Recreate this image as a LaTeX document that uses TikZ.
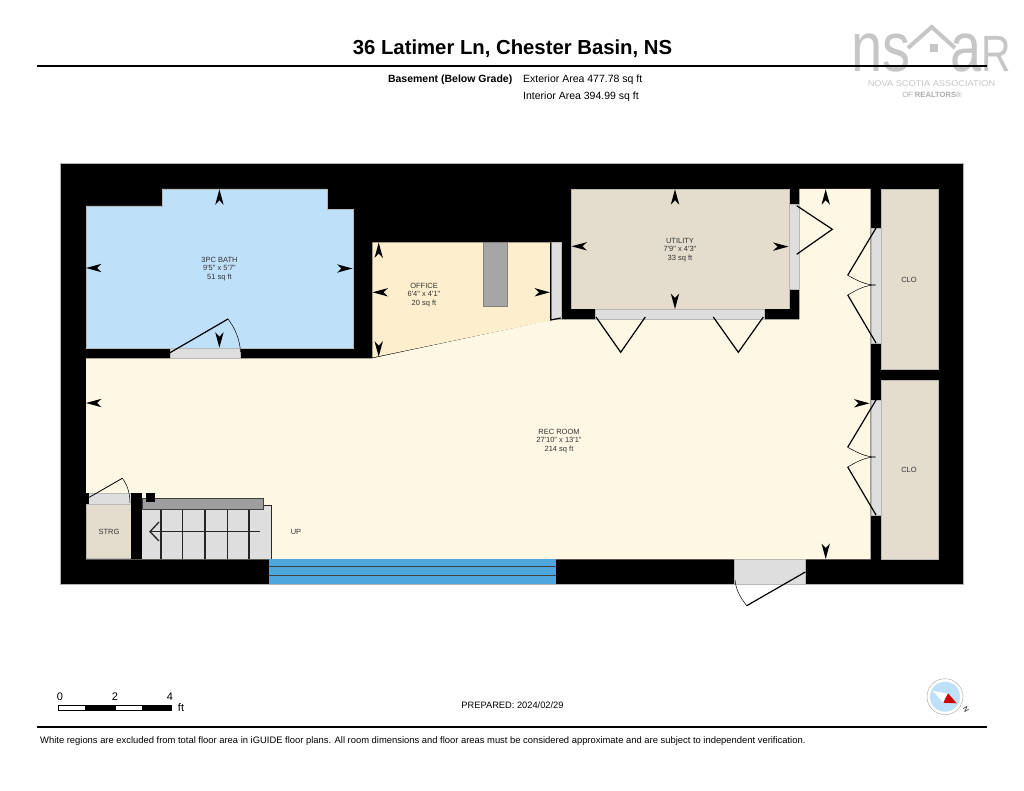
\documentclass[tikz,border=0pt]{standalone}
\usepackage{fontspec}
\setmainfont{Liberation Sans}[Ligatures=TeXOff]
\usepackage{tikz}
\usetikzlibrary{calc}

\definecolor{bathBlue}{HTML}{BFE0F9}
\definecolor{officeTan}{HTML}{FDEFCD}
\definecolor{recCream}{HTML}{FDF7E3}
\definecolor{utilTan}{HTML}{E4DDCD}
\definecolor{doorGrey}{HTML}{DEDEDE}
\definecolor{logoGrey}{HTML}{C6C6C6}
\definecolor{glassBlue}{HTML}{4DA6DC}

\tikzset{
	roomFill/.style={draw=black!28,line width=0.3pt},
	leaf/.style={line width=1.2pt,line join=miter},
	swing/.style={line width=0.5pt},
	roomLabel/.style={align=center,inner sep=0pt,text=black!80,font=\fontsize{7.5}{8.3}\selectfont},
	headerText/.style={anchor=west,inner sep=0pt,font=\fontsize{10.5}{12}\selectfont},
	rule/.style={line width=1.6pt}
}

\begin{document}
\begin{tikzpicture}[x=1pt,y=-1pt]
	\newcommand{\dimMark}[3]{\fill[black,shift={(#1,#2)},rotate=#3] (0,0)--(-15.5,-4.2)--(-11,0)--(-15.5,4.2)--cycle;}

	\useasboundingbox (0,0) rectangle (1024,791);
	\fill[white] (0,0) rectangle (1024,791);

	% logo
	\node (logo_ns) [anchor=base west,inner sep=0pt,text=logoGrey,xscale=0.8,font=\fontsize{70}{70}\selectfont] at (851,72) {ns};
	\node (logo_ar) [anchor=base west,inner sep=0pt,text=logoGrey,xscale=0.8,font=\fontsize{70}{70}\selectfont] at (950,72) {a{\fontsize{51}{51}\selectfont R}};
	\draw[logoGrey,line width=4pt,line join=miter] (908,48)--(931.7,27)--(955,48);
	\fill[logoGrey] (930,44) rectangle (938,52);
	\node (logo_assoc) [anchor=base,inner sep=0pt,text=logoGrey,xscale=1.1,font=\fontsize{8.4}{9}\selectfont] at (931.5,87) {NOVA SCOTIA ASSOCIATION};
	\node (logo_of) [anchor=base,inner sep=0pt,text=black!32,font=\fontsize{7.6}{8}\selectfont] at (932,97.5) {OF \textbf{REALTORS}®};

	% header
	\node (title) [inner sep=0pt,font=\bfseries\fontsize{20.3}{22}\selectfont] at (512.5,49) {36 Latimer Ln, Chester Basin, NS};
	\coordinate (rule_top_l) at (37,66);
	\coordinate (rule_top_r) at (987,66);
	\draw[rule] (rule_top_l) -- (rule_top_r);
	\node (level) [anchor=east,inner sep=0pt,font=\bfseries\fontsize{10.5}{12}\selectfont] at (512.5,79.5) {Basement (Below Grade)};
	\node (ext_area) [headerText] at (523,79.5) {Exterior Area 477.78 sq ft};
	\node (int_area) [headerText] at (523,96.5) {Interior Area 394.99 sq ft};

	% walls
	\fill[black] (60,163) rectangle (963,584);
	\draw[black!30,line width=0.5pt] (60,163) rectangle (963,584);

	% rooms
	\fill[recCream] (86,358.3)--(372.3,358.3)--(551,320)--(561,319.3)--(799.3,319.3)--(799.3,189)--(870.7,189)--(870.7,559.3)--(86,559.3)--cycle;
	\draw[roomFill,fill=bathBlue] (86,206)--(162,206)--(162,189)--(327,189)--(327,209.5)--(353,209.5)--(353,348)--(86,348)--cycle;
	\fill[officeTan] (372.3,242.3)--(550.7,242.3)--(550.7,320.5)--(372.3,357.5)--cycle;
	\draw[roomFill,fill=utilTan] (571.3,189) rectangle (789,309.3);
	\draw[roomFill,fill=utilTan] (881,189) rectangle (937.7,369.3);
	\draw[roomFill,fill=utilTan] (881,380) rectangle (937.7,559.3);
	\draw[roomFill,fill=utilTan] (86,504.3) rectangle (131.6,558.5);
	\fill[black] (561,319.3) rectangle (595,309.3);
	\fill[black] (764,309.3) rectangle (799.3,319.3);

	% pillar and window
	\draw[black!50,fill=black!35,line width=0.4pt] (483.3,242.3) rectangle (506.7,306);
	\fill[glassBlue] (269,559.3) rectangle (556,584);
	\draw[black!75,line width=0.9pt] (269,566.7)--(556,566.7);
	\draw[black!75,line width=0.9pt] (269,575)--(556,575);

	% door openings
	\foreach \xa/\ya/\xb/\yb in {170/348/240.5/358.3, 550.7/242.3/560.7/319.3, 595/309.3/764/319.3, 789/204.3/799.3/289, 870.7/228/881/343, 870.7/400/881/515, 734.3/559.3/805.3/584, 86/493.3/131/504.3}
	{
		\draw[roomFill,fill=doorGrey] (\xa,\ya) rectangle (\xb,\yb);
	}

	% door leaves
	\draw[leaf] (170,352.7)--(228,319);
	\draw[swing] (228,319) .. controls (235,328) and (240,340) .. (240.5,352);
	\draw[leaf] (550.7,242.3)--(550.7,320)--(560.7,318);
	\draw[leaf] (596,317)--(620.7,352.3)--(645.3,317);
	\draw[leaf] (713.3,317)--(738.3,352.3)--(763.3,317);
	\draw[leaf] (796.7,205.7)--(832.3,229.3)--(796.7,254.3);
	\foreach \yo in {0,172}
	{
		\draw[leaf] (876,228+\yo)--(847.7,275.3+\yo);
		\draw[swing] (847.7,275.3+\yo) .. controls (858,281+\yo) and (866,285+\yo) .. (875.5,285+\yo);
		\draw[swing] (847.7,295+\yo) .. controls (858,289+\yo) and (866,285+\yo) .. (875.5,285+\yo);
		\draw[leaf] (847.7,295+\yo)--(876,343+\yo);
	}
	\draw[leaf] (805.3,572)--(746.7,605.7);
	\draw[swing] (746.7,605.7) .. controls (740,597) and (736,590) .. (735,580);

	% stairs
	\fill[doorGrey] (142.3,505) rectangle (271.7,559.3);
	\draw[black!85,line width=0.9pt] (263.3,505)--(271.7,505)--(271.7,559.3);
	\foreach \treadX in {161,182.7,205,227.3,249}
	{
		\draw[black!85,line width=1.1pt] (\treadX,509)--(\treadX,559.3);
	}
	\fill[black] (131,493.3) rectangle (142.3,559.3);
	\fill[black] (86,493.3) rectangle (88.5,504.3);
	\draw[black!75,fill=black!38,line width=0.6pt] (142.3,498.3) rectangle (263.3,509);
	\fill[black] (146,493.3) rectangle (155,502.3);
	\coordinate (stair_start) at (260,531.7);
	\coordinate (stair_end) at (150,531.7);
	\draw[black!85,line width=1.3pt] (stair_start) -- (stair_end);
	\draw[black!85,line width=1.3pt] (159,522)--(stair_end)--(159,541);
	\draw[leaf,line width=0.8pt] (88,498)--(122.3,478.3);
	\draw[swing] (122.3,478.3) .. controls (127,484) and (130,493) .. (130,503);

	% dimension marks
	\foreach \px/\py/\ang in {219.4/189.3/90, 86/268/180, 352.5/268.5/0, 219.4/347.7/-90,
		378.7/242.5/90, 372.5/292.3/180, 550/292.3/0, 378.7/356.7/-90,
		571.5/246.3/180, 675/189.2/90, 788.5/246.6/0, 675/309/-90,
		825.7/189.2/90, 86/403/180, 869.5/403.3/0, 825.7/559/-90}
	{
		\dimMark{\px}{\py}{\ang}
	}

	% room labels
	\node (bath) [roomLabel] at (219.5,269) {3PC BATH\\9'5" x 5'7"\\51 sq ft};
	\node (office) [roomLabel] at (424,295) {OFFICE\\6'4" x 4'1"\\20 sq ft};
	\node (utility) [roomLabel] at (680,250) {UTILITY\\7'9" x 4'3"\\33 sq ft};
	\node (rec) [roomLabel] at (559,441) {REC ROOM\\27'10" x 13'1"\\214 sq ft};
	\node (clo_a) [roomLabel] at (909,279.5) {CLO};
	\node (clo_b) [roomLabel] at (909,470) {CLO};
	\node (strg) [roomLabel] at (109,531.5) {STRG};
	\node (stair_up) [roomLabel] at (296,531.5) {UP};

	% scale bar
	\foreach \xa/\xb/\tone in {58/85/white, 85/115/black, 115/142/white, 142/171/black}
	{
		\draw[black,fill=\tone,line width=0.5pt] (\xa,705.7) rectangle (\xb,710.3);
	}
	\node (scale_a) [inner sep=0pt,font=\fontsize{11}{12}\selectfont] at (60,697) {0};
	\node (scale_b) [inner sep=0pt,font=\fontsize{11}{12}\selectfont] at (115,697) {2};
	\node (scale_c) [inner sep=0pt,font=\fontsize{11}{12}\selectfont] at (170,697) {4};
	\node (scale_unit) [inner sep=0pt,font=\fontsize{11}{12}\selectfont] at (181,708) {ft};
	\node (prepared) [inner sep=0pt,font=\fontsize{9.3}{11}\selectfont] at (512.5,705.5) {PREPARED: 2024/02/29};

	% compass
	\coordinate (compass) at (945,696.7);
	\draw[black!30,fill=white,line width=0.5pt] (compass) circle (18);
	\fill[bathBlue] (compass) circle (15);
	\fill[white] (933,691)--(948,693.5)--(943.3,702.7)--cycle;
	\fill[red!80!black] (948,693.3)--(943.3,702.7)--(956.7,703.3)--cycle;
	\node (compass_n) [inner sep=0pt,rotate=-60,font=\fontsize{7}{8}\selectfont] at (966,709) {N};

	% footer
	\coordinate (rule_bot_l) at (37,727);
	\coordinate (rule_bot_r) at (987,727);
	\draw[rule] (rule_bot_l) -- (rule_bot_r);
	\node (disclaimer) [anchor=west,inner sep=0pt,font=\fontsize{9.4}{11}\selectfont] at (40,741) {White regions are excluded from total floor area in iGUIDE floor plans. All room dimensions and floor areas must be considered approximate and are subject to independent verification.};
\end{tikzpicture}
\end{document}
